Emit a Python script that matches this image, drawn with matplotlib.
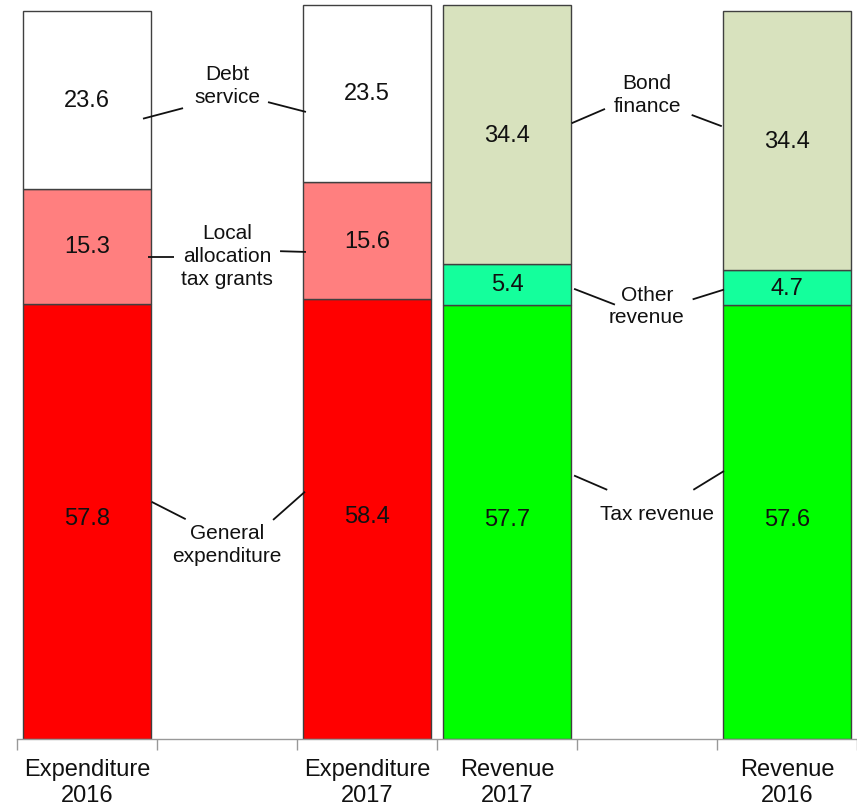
import matplotlib
matplotlib.use("Agg")
import matplotlib.pyplot as plt
import numpy as np

plt.rcParams['font.family'] = ['Liberation Sans', 'DejaVu Sans']

# Budget composition (trillion yen), stacked bottom -> top
categories = ["Expenditure\n2016", "", "Expenditure\n2017", "Revenue\n2017", "", "Revenue\n2016"]
bar_slots = [0, 2, 3, 5]

bottom_vals = [57.8, 58.4, 57.7, 57.6]   # General expenditure / Tax revenue
middle_vals = [15.3, 15.6, 5.4, 4.7]     # Local allocation tax grants / Other revenue
top_vals = [23.6, 23.5, 34.4, 34.4]      # Debt service / Bond finance

bottom_colors = ["#FF0000", "#FF0000", "#00FF00", "#00FF00"]
middle_colors = ["#FF7F7F", "#FF7F7F", "#14FF9C", "#14FF9C"]
top_colors = ["#FFFFFF", "#FFFFFF", "#D8E2BE", "#D8E2BE"]

W, H = 857, 804
fig = plt.figure(figsize=(W / 100, H / 100), dpi=100)
ax = fig.add_axes([17 / W, 64 / H, 1 - 17 / W, 740 / H])

width = 0.92
edge = dict(edgecolor="#404040", linewidth=1.0)
b = np.array(bottom_vals)
m = np.array(middle_vals)
t = np.array(top_vals)
ax.bar(bar_slots, b, width, color=bottom_colors, **edge)
ax.bar(bar_slots, m, width, bottom=b, color=middle_colors, **edge)
ax.bar(bar_slots, t, width, bottom=b + m, color=top_colors, **edge)

vfont = dict(fontsize=17, ha="center", va="center", color="#111111")
for x, lo, mid, hi in zip(bar_slots, b, m, t):
    ax.text(x, lo / 2 + 0.4, f"{lo:.1f}", **vfont)
    ax.text(x, lo + mid / 2, f"{mid:.1f}", **vfont)
    ax.text(x, lo + mid + hi / 2, f"{hi:.1f}", **vfont)

# Series labels between the bars with leader lines
lfont = dict(fontsize=15, ha="center", va="center", color="#111111", linespacing=1.25)
labels = [
    ("Debt\nservice", 1.0, 86.9, [((0.40, 82.4), (0.686, 83.8)), ((1.293, 84.6), (1.564, 83.3))]),
    ("Local\nallocation\ntax grants", 1.0, 64.2, [((0.436, 64.0), (0.621, 64.0)), ((1.379, 64.8), (1.564, 64.7))]),
    ("General\nexpenditure", 1.0, 25.9, [((0.462, 31.5), (0.705, 29.2)), ((1.329, 29.1), (1.557, 32.85))]),
    ("Bond\nfinance", 4.0, 85.7, [((3.462, 81.8), (3.70, 83.7)), ((4.319, 82.9), (4.534, 81.4))]),
    ("Other\nrevenue", 4.0, 57.6, [((3.479, 59.8), (3.771, 57.7)), ((4.326, 58.4), (4.55, 59.7))]),
    ("Tax revenue", 4.07, 30.0, [((3.479, 35.0), (3.716, 33.1)), ((4.331, 33.1), (4.55, 35.6))]),
]
for text, x, y, lines in labels:
    ax.text(x, y, text, **lfont)
    for (x0, y0), (x1, y1) in lines:
        ax.plot([x0, x1], [y0, y1], color="#111111", lw=1.3, solid_capstyle="butt")

ax.set_xlim(-0.5, 5.5)
ax.set_ylim(0, 98.3)

for s in ["top", "right", "left"]:
    ax.spines[s].set_visible(False)
ax.spines["bottom"].set_color("#999999")
ax.spines["bottom"].set_linewidth(1.0)
ax.set_yticks([])

ax.set_xticks(np.arange(-0.5, 6.0, 1.0))
ax.set_xticklabels([])
ax.tick_params(axis="x", which="major", direction="out", length=8, color="#999999", width=1.0)
ax.set_xticks(range(len(categories)), minor=True)
ax.set_xticklabels(categories, minor=True, fontsize=17, color="#111111", linespacing=1.2)
ax.tick_params(axis="x", which="minor", length=0, pad=14)

fig.savefig("out.png", dpi=100)
